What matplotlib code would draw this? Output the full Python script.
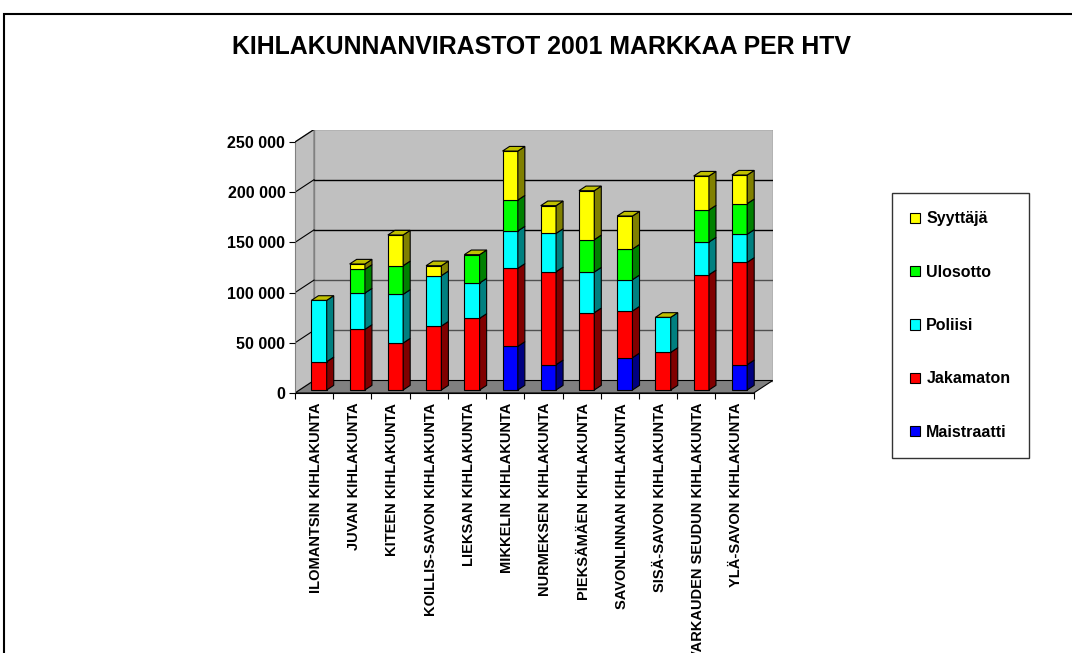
import numpy as np
import matplotlib
matplotlib.use("Agg")
import matplotlib.pyplot as plt
from matplotlib.patches import Polygon, Rectangle, Patch

plt.rcParams['font.family'] = ['Liberation Sans', 'DejaVu Sans']
plt.rcParams['font.weight'] = 'bold'

categories = ["ILOMANTSIN KIHLAKUNTA", "JUVAN KIHLAKUNTA", "KITEEN KIHLAKUNTA",
              "KOILLIS-SAVON KIHLAKUNTA", "LIEKSAN KIHLAKUNTA", "MIKKELIN KIHLAKUNTA",
              "NURMEKSEN KIHLAKUNTA", "PIEKSÄMÄEN KIHLAKUNTA", "SAVONLINNAN KIHLAKUNTA",
              "SISÄ-SAVON KIHLAKUNTA", "VARKAUDEN SEUDUN KIHLAKUNTA", "YLÄ-SAVON KIHLAKUNTA"]

maistraatti = [0, 0, 0, 0, 0, 43500, 25200, 0, 32200, 0, 0, 25200]
jakamaton = [28200, 60400, 46800, 63700, 71400, 77700, 92600, 77000, 46500, 37500, 114800, 102000]
poliisi = [61100, 36200, 48500, 50200, 35200, 37200, 38200, 40500, 31200, 34900, 32600, 27900]
ulosotto = [0, 23600, 28500, 0, 28200, 30800, 0, 32200, 30500, 0, 31900, 30500]
syyttaja = [0, 5300, 30600, 9900, 0, 48800, 27600, 48800, 32900, 0, 33800, 28500]

series_names = ["Maistraatti", "Jakamaton", "Poliisi", "Ulosotto", "Syyttäjä"]
series = [maistraatti, jakamaton, poliisi, ulosotto, syyttaja]
front_cols = ["#0000ff", "#ff0000", "#00ffff", "#00ff00", "#ffff00"]
side_cols = ["#000080", "#800000", "#008080", "#008000", "#808000"]
top_col = "#c0c000"

yticks = [0, 50000, 100000, 150000, 200000, 250000]
ymax = 250000

W, H = 1072, 653
fig = plt.figure(figsize=(W / 100, H / 100), dpi=100)

# outer chart border (runs off the right and bottom edge)
fig.add_artist(Rectangle((3.5 / W, -0.1), 1.2, 1 - 13.5 / H + 0.1, transform=fig.transFigure,
                         fill=False, ec="black", lw=1.5))

fig.text(542 / W, 1 - 47 / H, "KIHLAKUNNANVIRASTOT 2001 MARKKAA PER HTV",
         ha="center", va="center", fontsize=17.9, fontweight="bold")

n = len(categories)
# depth offset of the back wall, in data units
ddx = 19 / 38.2
ddy = 12450

ax = fig.add_axes([295 / W, (H - 393) / H, (772.7 - 295) / W, (393 - 129.5) / H])
ax.set_xlim(0, n + ddx)
ax.set_ylim(0, ymax + ddy)
ax.patch.set_visible(False)

# walls and floor
ax.add_patch(Polygon([(ddx, ddy), (n + ddx, ddy), (n + ddx, ymax + ddy), (ddx, ymax + ddy)],
                     closed=True, fc="#c0c0c0", ec="#808080", lw=1, zorder=0.5))
ax.add_patch(Polygon([(0, 0), (ddx, ddy), (ddx, ymax + ddy), (0, ymax)],
                     closed=True, fc="#c0c0c0", ec="#808080", lw=1, zorder=0.5))
ax.add_patch(Polygon([(0, 0), (n, 0), (n + ddx, ddy), (ddx, ddy)],
                     closed=True, fc="#808080", ec="black", lw=0.8, zorder=0.6))

for v in yticks[1:-1]:
    c = "black" if v >= 150000 else "#505050"
    ax.plot([ddx, n + ddx], [v + ddy, v + ddy], color=c, lw=1, zorder=0.7)
for v in yticks[1:]:
    ax.plot([0, ddx], [v, v + ddy], color="black", lw=0.8, zorder=0.7)

# bars: front face through ax.bar, side and top faces as polygons
f0, f1 = 0.24, 0.61
bw = 0.40
x = np.arange(n) + 0.31 + bw / 2 + f0 * ddx
sx = (f1 - f0) * ddx
sy = (f1 - f0) * ddy
bottom = np.zeros(n)
for k, vals in enumerate(series):
    vals = np.array(vals, dtype=float)
    ax.bar(x[vals > 0], vals[vals > 0], width=bw, bottom=bottom[vals > 0] + f0 * ddy,
           color=front_cols[k], edgecolor="black", lw=0.8, zorder=2)
    for i in range(n):
        if vals[i] <= 0:
            continue
        xr = x[i] + bw / 2
        y0 = bottom[i] + f0 * ddy
        y1 = y0 + vals[i]
        ax.add_patch(Polygon([(xr, y0), (xr + sx, y0 + sy), (xr + sx, y1 + sy), (xr, y1)],
                             closed=True, fc=side_cols[k], ec="black", lw=0.8, zorder=2))
    bottom = bottom + vals

for i in range(n):
    xl = x[i] - bw / 2
    xr = x[i] + bw / 2
    yt = bottom[i] + f0 * ddy
    ax.add_patch(Polygon([(xl, yt), (xr, yt), (xr + sx, yt + sy), (xl + sx, yt + sy)],
                         closed=True, fc=top_col, ec="black", lw=0.8, zorder=2))

# axes
for s in ["top", "right"]:
    ax.spines[s].set_visible(False)
ax.spines["left"].set_bounds(0, ymax)
ax.spines["left"].set_color("#808080")
ax.spines["bottom"].set_bounds(0, n)
ax.spines["bottom"].set_color("black")
ax.spines["left"].set_zorder(0.8)
ax.spines["bottom"].set_zorder(0.8)

ax.set_yticks(yticks)
ax.set_yticklabels([f"{v:,}".replace(",", " ") for v in yticks], fontsize=11.5, fontweight="bold")
ax.tick_params(axis="y", length=4, width=0.8, pad=3, color="black")

ax.set_xticks(np.arange(n + 1))
ax.set_xticklabels([])
ax.set_xticks(np.arange(n) + 0.55, minor=True)
ax.set_xticklabels(categories, minor=True, rotation=90, fontsize=10.5, fontweight="bold",
                   va="top", ha="center")
ax.tick_params(axis="x", which="major", length=4, width=0.8, color="black")
ax.tick_params(axis="x", which="minor", length=0, pad=7)

handles = [Patch(facecolor=front_cols[k], edgecolor="black", lw=0.8, label=series_names[k])
           for k in range(len(series) - 1, -1, -1)]
leg = fig.legend(handles=handles, loc="upper left", bbox_to_anchor=(891.7 / W, 1 - 193 / H),
                 prop={"size": 11.5, "weight": "bold"}, frameon=True, fancybox=False,
                 edgecolor="black", borderpad=1.15, labelspacing=2.4, handlelength=0.62,
                 handleheight=0.62, handletextpad=0.4, borderaxespad=0)
leg.get_frame().set_linewidth(1)

fig.savefig("out.png", dpi=100)
